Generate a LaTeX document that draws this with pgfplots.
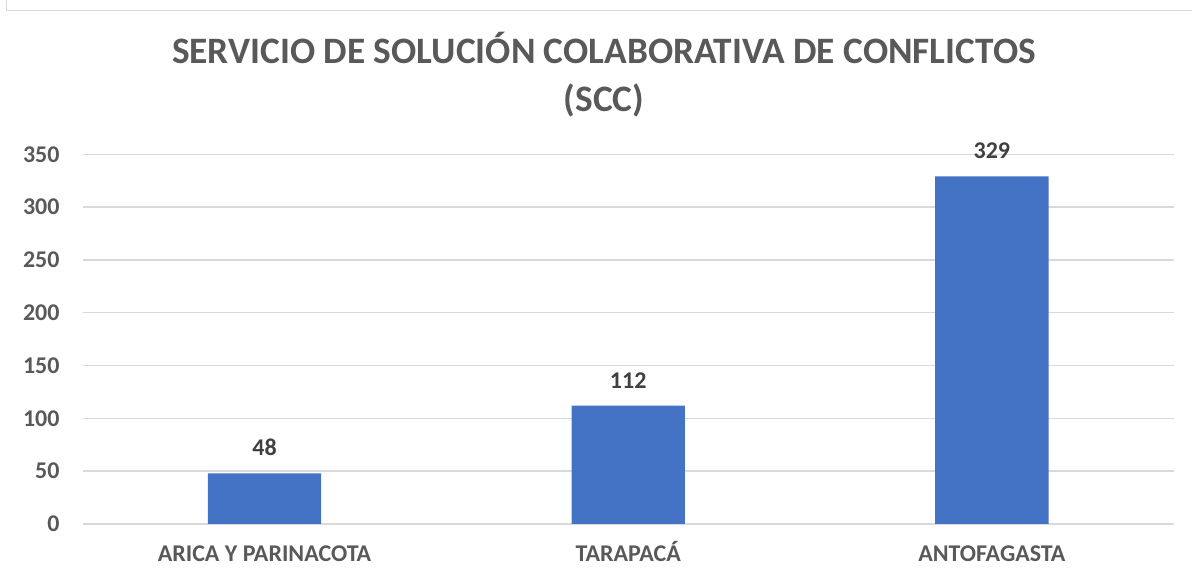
\documentclass[border=0pt]{standalone}
\usepackage{fontspec}
\setmainfont{Carlito}
\usepackage{pgfplots}
\pgfplotsset{compat=1.18}
\definecolor{barblue}{HTML}{4472C4}
\definecolor{txtgray}{HTML}{595959}
\definecolor{lblgray}{HTML}{404040}
\definecolor{gridgray}{HTML}{D9D9D9}
\begin{document}
\begin{tikzpicture}[x=1pt,y=1pt]
\useasboundingbox (0,0) rectangle (1192,580);
% chart frame (cut at right and bottom)
\draw[gridgray,line width=1.5pt] (6.5,620) -- (6.5,569.5) -- (1240,569.5);
% title
\node[anchor=base,inner sep=0,text=txtgray,font=\fontsize{37.3}{40}\selectfont\bfseries] at (604,516) {SERVICIO DE SOLUCIÓN COLABORATIVA DE CONFLICTOS};
\node[anchor=base,inner sep=0,text=txtgray,font=\fontsize{37.3}{40}\selectfont\bfseries] at (604,468) {(SCC)};
\begin{axis}[
  at={(82.7pt,56pt)},anchor=south west,
  scale only axis,width=1091pt,height=369.7pt,
  xmin=-0.5,xmax=2.5,ymin=0,ymax=350,
  axis line style={draw=none},
  major tick length=0pt,
  xtick={0,1,2},
  xticklabels={ARICA Y PARINACOTA,TARAPACÁ,ANTOFAGASTA},
  ytick={0,50,...,350},
  ymajorgrids,
  grid style={gridgray,line width=1.4pt},
  /pgf/number format/assume math mode=true,
  tick label style={font=\fontsize{24}{28}\selectfont\bfseries,text=txtgray,inner sep=0pt},
  yticklabel style={anchor=east,xshift=-23pt},
  xticklabel style={anchor=base,yshift=-37.5pt},
  nodes near coords,
  every node near coord/.append style={anchor=base,yshift=17.5pt,inner sep=0pt,
     font=\fontsize{24}{28}\selectfont\bfseries,text=lblgray,
     /pgf/number format/assume math mode=true},
]
\addplot[ybar,bar width=0.3115,fill=barblue,draw=none] coordinates {(0,48) (1,112) (2,329)};
\end{axis}
\end{tikzpicture}
\end{document}
